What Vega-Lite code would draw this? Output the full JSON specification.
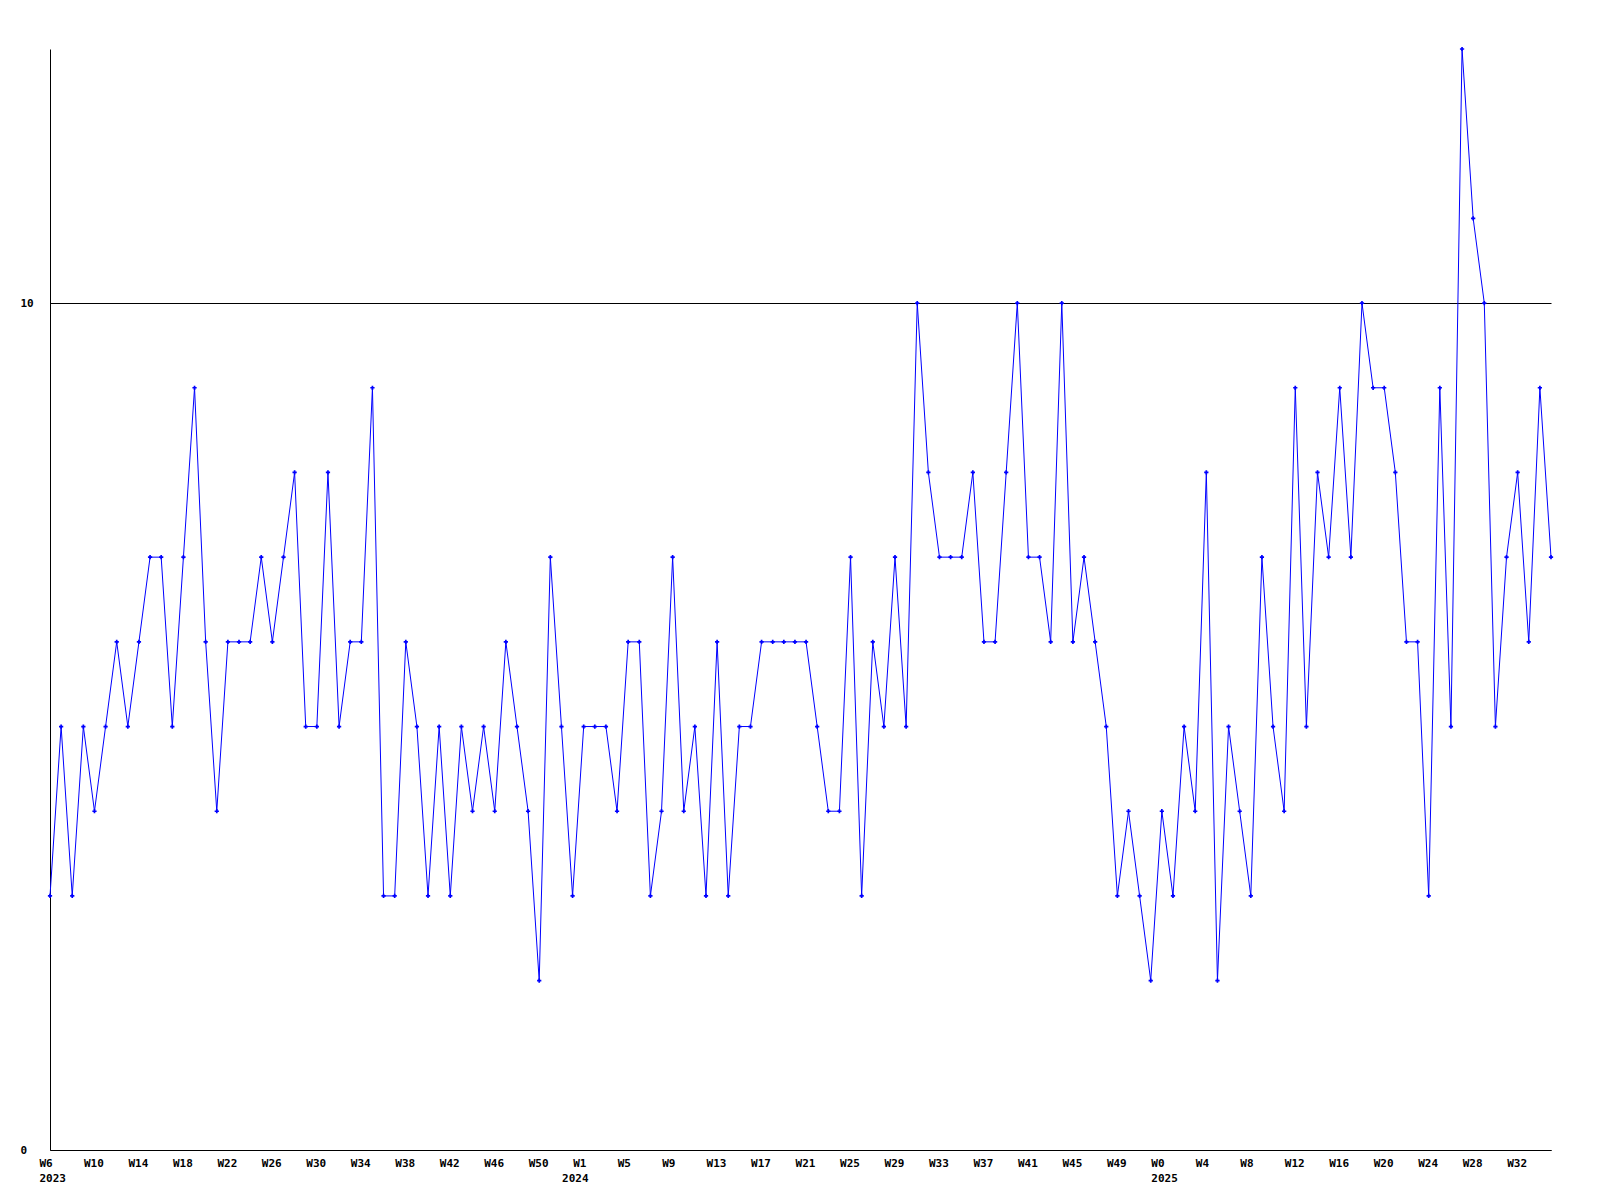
{
  "$schema": "https://vega.github.io/schema/vega-lite/v6.json",
  "autosize": "none",
  "width": 1501,
  "height": 1101,
  "padding": {"left": 50, "top": 49, "right": 49, "bottom": 50},
  "background": "#ffffff",
  "data": {"values": [
    {"week": "2023-W6", "value": 3}, {"week": "2023-W7", "value": 5}, {"week": "2023-W8", "value": 3}, {"week": "2023-W9", "value": 5},
    {"week": "2023-W10", "value": 4}, {"week": "2023-W11", "value": 5}, {"week": "2023-W12", "value": 6}, {"week": "2023-W13", "value": 5},
    {"week": "2023-W14", "value": 6}, {"week": "2023-W15", "value": 7}, {"week": "2023-W16", "value": 7}, {"week": "2023-W17", "value": 5},
    {"week": "2023-W18", "value": 7}, {"week": "2023-W19", "value": 9}, {"week": "2023-W20", "value": 6}, {"week": "2023-W21", "value": 4},
    {"week": "2023-W22", "value": 6}, {"week": "2023-W23", "value": 6}, {"week": "2023-W24", "value": 6}, {"week": "2023-W25", "value": 7},
    {"week": "2023-W26", "value": 6}, {"week": "2023-W27", "value": 7}, {"week": "2023-W28", "value": 8}, {"week": "2023-W29", "value": 5},
    {"week": "2023-W30", "value": 5}, {"week": "2023-W31", "value": 8}, {"week": "2023-W32", "value": 5}, {"week": "2023-W33", "value": 6},
    {"week": "2023-W34", "value": 6}, {"week": "2023-W35", "value": 9}, {"week": "2023-W36", "value": 3}, {"week": "2023-W37", "value": 3},
    {"week": "2023-W38", "value": 6}, {"week": "2023-W39", "value": 5}, {"week": "2023-W40", "value": 3}, {"week": "2023-W41", "value": 5},
    {"week": "2023-W42", "value": 3}, {"week": "2023-W43", "value": 5}, {"week": "2023-W44", "value": 4}, {"week": "2023-W45", "value": 5},
    {"week": "2023-W46", "value": 4}, {"week": "2023-W47", "value": 6}, {"week": "2023-W48", "value": 5}, {"week": "2023-W49", "value": 4},
    {"week": "2023-W50", "value": 2}, {"week": "2023-W51", "value": 7}, {"week": "2023-W52", "value": 5}, {"week": "2024-W0", "value": 3},
    {"week": "2024-W1", "value": 5}, {"week": "2024-W2", "value": 5}, {"week": "2024-W3", "value": 5}, {"week": "2024-W4", "value": 4},
    {"week": "2024-W5", "value": 6}, {"week": "2024-W6", "value": 6}, {"week": "2024-W7", "value": 3}, {"week": "2024-W8", "value": 4},
    {"week": "2024-W9", "value": 7}, {"week": "2024-W10", "value": 4}, {"week": "2024-W11", "value": 5}, {"week": "2024-W12", "value": 3},
    {"week": "2024-W13", "value": 6}, {"week": "2024-W14", "value": 3}, {"week": "2024-W15", "value": 5}, {"week": "2024-W16", "value": 5},
    {"week": "2024-W17", "value": 6}, {"week": "2024-W18", "value": 6}, {"week": "2024-W19", "value": 6}, {"week": "2024-W20", "value": 6},
    {"week": "2024-W21", "value": 6}, {"week": "2024-W22", "value": 5}, {"week": "2024-W23", "value": 4}, {"week": "2024-W24", "value": 4},
    {"week": "2024-W25", "value": 7}, {"week": "2024-W26", "value": 3}, {"week": "2024-W27", "value": 6}, {"week": "2024-W28", "value": 5},
    {"week": "2024-W29", "value": 7}, {"week": "2024-W30", "value": 5}, {"week": "2024-W31", "value": 10}, {"week": "2024-W32", "value": 8},
    {"week": "2024-W33", "value": 7}, {"week": "2024-W34", "value": 7}, {"week": "2024-W35", "value": 7}, {"week": "2024-W36", "value": 8},
    {"week": "2024-W37", "value": 6}, {"week": "2024-W38", "value": 6}, {"week": "2024-W39", "value": 8}, {"week": "2024-W40", "value": 10},
    {"week": "2024-W41", "value": 7}, {"week": "2024-W42", "value": 7}, {"week": "2024-W43", "value": 6}, {"week": "2024-W44", "value": 10},
    {"week": "2024-W45", "value": 6}, {"week": "2024-W46", "value": 7}, {"week": "2024-W47", "value": 6}, {"week": "2024-W48", "value": 5},
    {"week": "2024-W49", "value": 3}, {"week": "2024-W50", "value": 4}, {"week": "2024-W51", "value": 3}, {"week": "2024-W52", "value": 2},
    {"week": "2025-W0", "value": 4}, {"week": "2025-W1", "value": 3}, {"week": "2025-W2", "value": 5}, {"week": "2025-W3", "value": 4},
    {"week": "2025-W4", "value": 8}, {"week": "2025-W5", "value": 2}, {"week": "2025-W6", "value": 5}, {"week": "2025-W7", "value": 4},
    {"week": "2025-W8", "value": 3}, {"week": "2025-W9", "value": 7}, {"week": "2025-W10", "value": 5}, {"week": "2025-W11", "value": 4},
    {"week": "2025-W12", "value": 9}, {"week": "2025-W13", "value": 5}, {"week": "2025-W14", "value": 8}, {"week": "2025-W15", "value": 7},
    {"week": "2025-W16", "value": 9}, {"week": "2025-W17", "value": 7}, {"week": "2025-W18", "value": 10}, {"week": "2025-W19", "value": 9},
    {"week": "2025-W20", "value": 9}, {"week": "2025-W21", "value": 8}, {"week": "2025-W22", "value": 6}, {"week": "2025-W23", "value": 6},
    {"week": "2025-W24", "value": 3}, {"week": "2025-W25", "value": 9}, {"week": "2025-W26", "value": 5}, {"week": "2025-W27", "value": 13},
    {"week": "2025-W28", "value": 11}, {"week": "2025-W29", "value": 10}, {"week": "2025-W30", "value": 5}, {"week": "2025-W31", "value": 7},
    {"week": "2025-W32", "value": 8}, {"week": "2025-W33", "value": 6}, {"week": "2025-W34", "value": 9}, {"week": "2025-W35", "value": 7}
  ]},
  "mark": {
    "type": "line",
    "color": "#0000ff",
    "strokeWidth": 1,
    "point": {"shape": "cross", "size": 18, "filled": true, "color": "#0000ff"}
  },
  "encoding": {
    "x": {
      "field": "week",
      "type": "ordinal",
      "sort": null,
      "scale": {"type": "point", "padding": 0},
      "axis": {
        "title": null,
        "values": ["2023-W6", "2023-W10", "2023-W14", "2023-W18", "2023-W22", "2023-W26", "2023-W30", "2023-W34", "2023-W38", "2023-W42", "2023-W46", "2023-W50",
                   "2024-W0", "2024-W1", "2024-W5", "2024-W9", "2024-W13", "2024-W17", "2024-W21", "2024-W25", "2024-W29", "2024-W33", "2024-W37", "2024-W41", "2024-W45", "2024-W49",
                   "2025-W0", "2025-W4", "2025-W8", "2025-W12", "2025-W16", "2025-W20", "2025-W24", "2025-W28", "2025-W32"],
        "labelExpr": "datum.value == '2024-W0' ? ['', '2024'] : ((datum.value == '2023-W6' || datum.value == '2025-W0') ? [split(datum.value, '-')[1], split(datum.value, '-')[0]] : split(datum.value, '-')[1])",
        "labelAngle": 0,
        "labelAlign": "left",
        "labelBaseline": "top",
        "labelOffset": -11,
        "labelPadding": 7,
        "labelLineHeight": 15,
        "labelOverlap": false,
        "labelFlush": false,
        "ticks": false,
        "tickSize": 0,
        "grid": false,
        "domainColor": "#000000",
        "domainWidth": 1
      }
    },
    "y": {
      "field": "value",
      "type": "quantitative",
      "scale": {"domain": [0, 13], "nice": false, "zero": true},
      "axis": {
        "title": null,
        "values": [0, 10],
        "grid": true,
        "gridColor": "#000000",
        "gridOpacity": 1,
        "gridWidth": 1,
        "ticks": false,
        "tickSize": 0,
        "labelAlign": "left",
        "labelBaseline": "middle",
        "labelPadding": 30,
        "labelFlush": false,
        "labelOverlap": false,
        "domainColor": "#000000",
        "domainWidth": 1
      }
    }
  },
  "config": {
    "view": {"stroke": null},
    "axis": {
      "labelFont": "DejaVu Sans Mono",
      "labelFontSize": 11,
      "labelFontWeight": "bold",
      "labelColor": "#000000"
    }
  }
}
